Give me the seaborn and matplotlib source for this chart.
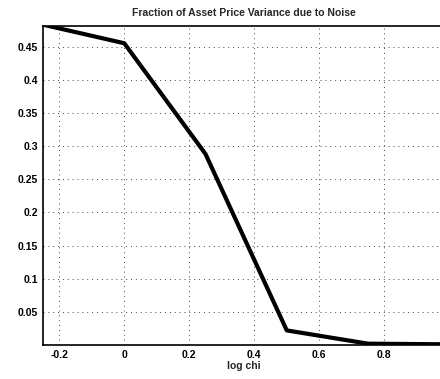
import matplotlib
matplotlib.use("Agg")
import matplotlib.pyplot as plt
import seaborn as sns
import pandas as pd

log_chi = [-0.25, 0.0, 0.25, 0.5, 0.75, 1.0]
fraction = [0.483, 0.455, 0.288, 0.022, 0.002, 0.001]
xticks = [-0.2, 0, 0.2, 0.4, 0.6, 0.8]
xticklabels = ["-0.2", "0", "0.2", "0.4", "0.6", "0.8"]
yticks = [0.05, 0.1, 0.15, 0.2, 0.25, 0.3, 0.35, 0.4, 0.45]
yticklabels = ["0.05", "0.1", "0.15", "0.2", "0.25", "0.3", "0.35", "0.4", "0.45"]

sns.set_style("white")
plt.rcParams['font.family'] = ['Liberation Sans Narrow', 'Liberation Sans', 'DejaVu Sans']

df = pd.DataFrame({"log chi": log_chi, "frac": fraction})

fig = plt.figure(figsize=(4.4, 3.79), dpi=100)
ax = fig.add_axes([43/440, 34/379, 1 - 43/440 + 0.01, (345-26)/379])
sns.lineplot(data=df, x="log chi", y="frac", ax=ax, color="black", linewidth=3.0)
ax.set_xlim(-0.25, 0.985)
ax.set_ylim(0, 0.481)
ax.set_xticks(xticks)
ax.set_xticklabels(xticklabels)
ax.set_yticks(yticks)
ax.set_yticklabels(yticklabels)
ax.grid(True, linestyle=(0, (1, 4)), color="#444444", linewidth=0.7)
ax.tick_params(direction="in", length=4, labelsize=7.5, colors="black", width=0.8)
for lab in ax.get_xticklabels() + ax.get_yticklabels():
    lab.set_fontweight("semibold")
for s in ax.spines.values():
    s.set_color("black")
    s.set_linewidth(1.2)
ax.spines["right"].set_visible(False)
ax.set_xlabel("log chi", fontsize=7.5, labelpad=1, fontweight="semibold")
ax.set_ylabel("")
ax.set_title("Fraction of Asset Price Variance due to Noise", fontsize=7.5, pad=7,
             fontweight="semibold")
fig.savefig("out.png", dpi=100)
